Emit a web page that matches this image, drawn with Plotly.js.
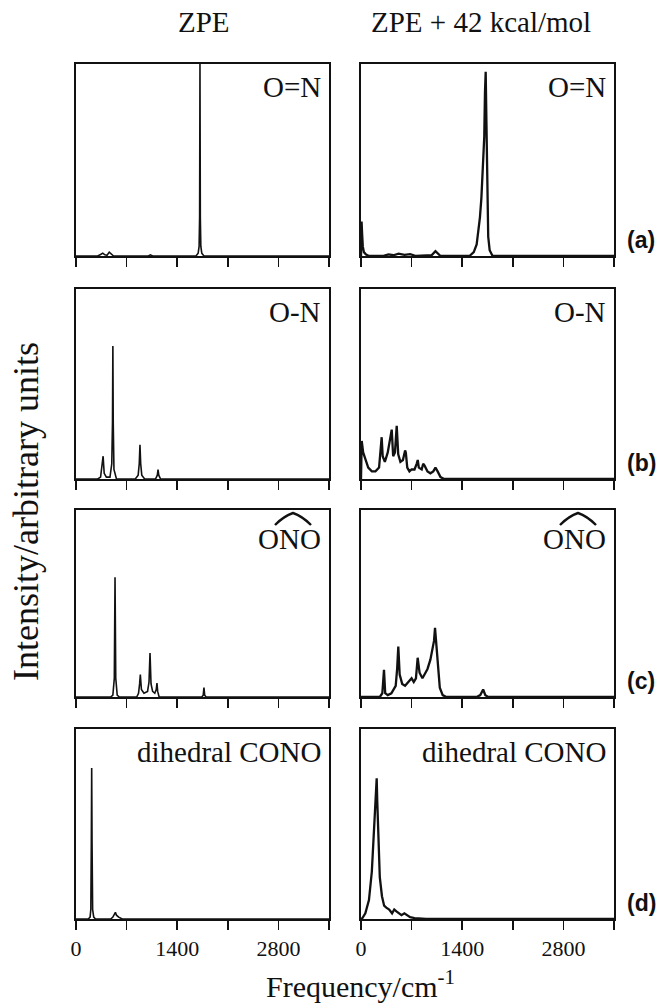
<!DOCTYPE html>
<html>
<head>
<meta charset="utf-8">
<script src="https://cdn.plot.ly/plotly-3.0.1.min.js"></script>
<style>
html,body{margin:0;padding:0;background:#fff;}
#chart{width:662px;height:1003px;}
</style>
</head>
<body>
<div id="chart"></div>
<script>
// ---------- data (frequency in cm-1, intensity in arbitrary units 0..1) ----------
const columnTitles = ["ZPE", "ZPE + 42 kcal/mol"];
const panelLetters = ["(a)", "(b)", "(c)", "(d)"];
const modeLabels = ["O=N", "O-N", "ONO", "dihedral CONO"];
const majorTicks = [0, 1400, 2800];
const majorTickLabels = ["0", "1400", "2800"];
const minorTicks = [700, 2100, 3500];

// (a) O=N stretch
const aZpeFreq = [0, 300, 340, 370, 400, 430, 460, 490, 520, 1000, 1030, 1060, 1660, 1690, 1703, 1710, 1715, 1720, 1727, 1740, 1770, 3500];
const aZpeInt  = [0, 0, 0.008, 0.015, 0.006, 0.004, 0.02, 0.008, 0, 0, 0.006, 0, 0, 0.015, 0.05, 0.2, 1.0, 0.2, 0.05, 0.015, 0, 0];
const aHotFreq = [0, 8, 15, 25, 40, 70, 110, 300, 380, 450, 520, 600, 680, 760, 980, 1030, 1060, 1100, 1500, 1560, 1600, 1625, 1645, 1665, 1690, 1705, 1715, 1725, 1735, 1745, 1760, 1780, 1820, 3500];
const aHotInt  = [0, 0.18, 0.12, 0.05, 0.02, 0.008, 0, 0, 0.008, 0.004, 0.012, 0.006, 0.01, 0, 0.005, 0.025, 0.015, 0, 0, 0.02, 0.06, 0.13, 0.2, 0.3, 0.5, 0.62, 0.85, 0.96, 0.7, 0.3, 0.1, 0.03, 0, 0];

// (b) O-N stretch
const bZpeFreq = [0, 300, 340, 365, 375, 390, 420, 470, 495, 505, 510, 515, 525, 560, 820, 860, 875, 885, 895, 910, 950, 1100, 1125, 1135, 1145, 1170, 3500];
const bZpeInt  = [0, 0, 0.01, 0.08, 0.12, 0.03, 0.01, 0.01, 0.08, 0.3, 0.7, 0.3, 0.05, 0, 0, 0.02, 0.08, 0.18, 0.08, 0.02, 0, 0, 0.02, 0.05, 0.02, 0, 0];
const bHotFreq = [0, 10, 30, 60, 100, 150, 200, 250, 275, 286, 300, 330, 370, 400, 425, 445, 470, 494, 515, 545, 580, 610, 620, 640, 670, 700, 740, 770, 785, 800, 840, 860, 880, 920, 960, 1000, 1030, 1060, 1100, 1150, 3500];
const bHotInt  = [0, 0.2, 0.14, 0.1, 0.06, 0.04, 0.04, 0.06, 0.15, 0.22, 0.12, 0.09, 0.14, 0.2, 0.26, 0.12, 0.14, 0.28, 0.13, 0.09, 0.1, 0.15, 0.14, 0.06, 0.04, 0.05, 0.05, 0.08, 0.1, 0.06, 0.05, 0.08, 0.07, 0.04, 0.03, 0.04, 0.06, 0.04, 0.01, 0, 0];

// (c) ONO bend
const cZpeFreq = [0, 480, 510, 530, 540, 550, 570, 600, 840, 865, 880, 890, 905, 940, 990, 1010, 1024, 1038, 1060, 1090, 1110, 1120, 1130, 1150, 1740, 1760, 1770, 1780, 1800, 3500];
const cZpeInt  = [0, 0, 0.01, 0.1, 0.64, 0.1, 0.01, 0, 0, 0.02, 0.07, 0.12, 0.04, 0.02, 0.03, 0.08, 0.235, 0.07, 0.03, 0.02, 0.04, 0.075, 0.03, 0, 0, 0.01, 0.05, 0.01, 0, 0];
const cHotFreq = [0, 260, 295, 318, 335, 370, 420, 480, 500, 516, 535, 570, 610, 660, 700, 730, 760, 784, 810, 850, 880, 920, 960, 990, 1010, 1024, 1040, 1060, 1090, 1130, 1180, 1600, 1650, 1690, 1720, 1760, 3500];
const cHotInt  = [0, 0, 0.02, 0.145, 0.02, 0.01, 0.02, 0.06, 0.15, 0.27, 0.12, 0.07, 0.06, 0.08, 0.1, 0.08, 0.1, 0.21, 0.13, 0.1, 0.12, 0.15, 0.2, 0.26, 0.3, 0.37, 0.3, 0.17, 0.05, 0.01, 0, 0, 0.01, 0.04, 0.01, 0, 0];

// (d) dihedral CONO torsion
const dZpeFreq = [0, 170, 195, 205, 212, 217, 222, 230, 245, 270, 480, 510, 530, 545, 560, 590, 640, 3500];
const dZpeInt  = [0, 0, 0.01, 0.05, 0.4, 0.795, 0.4, 0.05, 0.01, 0, 0, 0.01, 0.025, 0.035, 0.02, 0.01, 0, 0];
const dHotFreq = [0, 20, 60, 110, 150, 180, 200, 210, 217, 225, 240, 260, 290, 320, 350, 390, 430, 460, 490, 520, 560, 600, 640, 680, 740, 820, 900, 3500];
const dHotInt  = [0, 0.005, 0.03, 0.1, 0.25, 0.45, 0.6, 0.7, 0.74, 0.62, 0.4, 0.22, 0.12, 0.07, 0.06, 0.05, 0.03, 0.05, 0.04, 0.03, 0.02, 0.03, 0.02, 0.01, 0.005, 0.003, 0, 0];

// ---------- layout geometry (pixels) ----------
const W = 662, H = 1003;
const colX = [[76, 329], [361, 614]];
const rowY = [[64, 256], [289, 479], [510, 697], [729, 919]];
const px = x => x / W;
const py = y => 1 - y / H;

const series = [
  [[aZpeFreq, aZpeInt], [aHotFreq, aHotInt]],
  [[bZpeFreq, bZpeInt], [bHotFreq, bHotInt]],
  [[cZpeFreq, cZpeInt], [cHotFreq, cHotInt]],
  [[dZpeFreq, dZpeInt], [dHotFreq, dHotInt]]
];

const serif = '"Liberation Serif", "Times New Roman", Times, serif';
const ink = "#111";
const traces = [];
const layout = {
  width: W, height: H,
  margin: {l: 0, r: 0, t: 0, b: 0},
  paper_bgcolor: "#fff", plot_bgcolor: "#fff",
  showlegend: false,
  annotations: [],
  shapes: []
};

let k = 0;
for (let r = 0; r < 4; r++) {
  for (let c = 0; c < 2; c++) {
    k++;
    const xa = k === 1 ? "xaxis" : "xaxis" + k;
    const ya = k === 1 ? "yaxis" : "yaxis" + k;
    const xr = k === 1 ? "x" : "x" + k;
    const yr = k === 1 ? "y" : "y" + k;
    const [f, v] = series[r][c];
    traces.push({
      x: f, y: v, xaxis: xr, yaxis: yr, type: "scatter", mode: "lines",
      line: {color: ink, width: c === 0 ? 1.6 : 2.3},
      hoverinfo: "skip"
    });
    layout[xa] = {
      domain: [px(colX[c][0]), px(colX[c][1])],
      anchor: yr, range: [0, 3500],
      showline: true, mirror: true, linecolor: ink, linewidth: 1.8,
      showgrid: false, zeroline: false,
      ticks: "outside", ticklen: 9, tickwidth: 1.7, tickcolor: ink,
      tickmode: "array", tickvals: majorTicks, ticktext: majorTickLabels,
      minor: {tickmode: "array", tickvals: minorTicks, ticks: "outside", ticklen: 9, tickwidth: 1.7, tickcolor: ink, showgrid: false},
      showticklabels: r === 3,
      tickfont: {family: serif, size: 22, color: ink},
      fixedrange: true
    };
    layout[ya] = {
      domain: [py(rowY[r][1]), py(rowY[r][0])],
      anchor: xr, range: [0, 1.0],
      showline: true, mirror: true, linecolor: ink, linewidth: 1.8,
      showgrid: false, zeroline: false, ticks: "", showticklabels: false,
      fixedrange: true
    };
    // mode label in top-right corner
    const isAngle = modeLabels[r] === "ONO";
    layout.annotations.push({
      xref: "paper", yref: "paper",
      x: px(colX[c][1] - 6), y: py(rowY[r][0] + (isAngle ? 11 : 5)),
      xanchor: "right", yanchor: "top",
      text: modeLabels[r], showarrow: false,
      font: {family: serif, size: 29, color: ink}
    });
    if (isAngle) {
      // circumflex (angle mark) over ONO
      const xc = colX[c][1] - 36;
      const yb = rowY[r][0] + 15, yt = rowY[r][0] + 3;
      layout.shapes.push({
        type: "path", xref: "paper", yref: "paper",
        path: `M ${px(xc - 18)} ${py(yb)} Q ${px(xc - 9)} ${py(yt + 3)} ${px(xc)} ${py(yt)} Q ${px(xc + 9)} ${py(yt + 3)} ${px(xc + 18)} ${py(yb)}`,
        line: {color: ink, width: 2.4}
      });
    }
  }
  // panel letter at the right
  layout.annotations.push({
    xref: "paper", yref: "paper",
    x: px(641), y: py(rowY[r][1] - 16),
    xanchor: "center", yanchor: "middle",
    text: panelLetters[r], showarrow: false,
    font: {family: '"Liberation Sans", Arial, sans-serif', size: 23, color: ink, weight: "bold"}
  });
}

// column titles
layout.annotations.push({xref: "paper", yref: "paper", x: px(204), y: py(22), xanchor: "center", yanchor: "middle",
  text: columnTitles[0], showarrow: false, font: {family: serif, size: 29, color: ink}});
layout.annotations.push({xref: "paper", yref: "paper", x: px(481), y: py(22), xanchor: "center", yanchor: "middle",
  text: columnTitles[1], showarrow: false, font: {family: serif, size: 29, color: ink}});

// axis titles
layout.annotations.push({xref: "paper", yref: "paper", x: px(360), y: py(984), xanchor: "center", yanchor: "middle",
  text: "Frequency/cm<sup>-1</sup>", showarrow: false, font: {family: serif, size: 30, color: ink}});
layout.annotations.push({xref: "paper", yref: "paper", x: px(26), y: py(512), xanchor: "center", yanchor: "middle",
  text: "Intensity/arbitrary units", textangle: -90, showarrow: false, font: {family: serif, size: 36, color: ink}});

Plotly.newPlot("chart", traces, layout, {staticPlot: true, displayModeBar: false});
</script>
</body>
</html>
